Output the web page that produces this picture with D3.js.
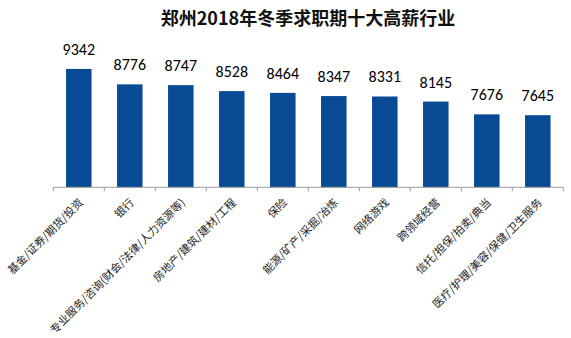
<!DOCTYPE html>
<html>
<head>
<meta charset="utf-8">
<script src="https://cdn.jsdelivr.net/npm/d3@7"></script>
<style>
  html, body { margin: 0; padding: 0; background: #fff; }
  svg { display: block; }
</style>
</head>
<body>
<svg id="chart" width="571" height="338"></svg>
<script>
// 郑州2018年冬季求职期十大高薪行业（平均月薪，元）
const categories = [
  "基金/证券/期货/投资",
  "银行",
  "专业服务/咨询(财会/法律/人力资源等)",
  "房地产/建筑/建材/工程",
  "保险",
  "能源/矿产/采掘/冶炼",
  "网络游戏",
  "跨领域经营",
  "信托/担保/拍卖/典当",
  "医疗/护理/美容/保健/卫生服务"
];
const salaries = [9342, 8776, 8747, 8528, 8464, 8347, 8331, 8145, 7676, 7645];
const yDomain = [5000, 10000];

const svg = d3.select("#chart");
const W = 571, H = 338;
const plot = { left: 53.3, right: 563.3, top: 51, bottom: 187.3 };
const cjk = "'Microsoft YaHei', 'Noto Sans CJK SC', sans-serif";

svg.append("rect").attr("width", W).attr("height", H).attr("fill", "#fff");

svg.append("text")
  .attr("x", 308).attr("y", 24.5)
  .attr("text-anchor", "middle")
  .attr("font-family", cjk)
  .attr("font-weight", "bold")
  .attr("font-size", 18)
  .attr("fill", "#111")
  .text("郑州2018年冬季求职期十大高薪行业");

const x = d3.scaleBand().domain(categories).range([plot.left, plot.right]).padding(0);
const y = d3.scaleLinear().domain(yDomain).range([plot.bottom, plot.top]);
const barW = x.bandwidth() * 0.5;

svg.append("g").selectAll("rect")
  .data(categories)
  .join("rect")
  .attr("x", d => x(d) + (x.bandwidth() - barW) / 2)
  .attr("width", barW)
  .attr("y", (d, i) => y(salaries[i]))
  .attr("height", (d, i) => plot.bottom - y(salaries[i]))
  .attr("fill", "#084a94");

svg.append("g").selectAll("text")
  .data(categories)
  .join("text")
  .attr("x", d => x(d) + x.bandwidth() / 2)
  .attr("y", (d, i) => y(salaries[i]) - 14)
  .attr("text-anchor", "middle")
  .attr("font-family", "Calibri, Carlito, 'Liberation Sans', sans-serif")
  .attr("font-size", 16)
  .attr("fill", "#000")
  .text((d, i) => salaries[i]);

// Category axis: tick marks sit between bands
const axisG = svg.append("g");
axisG.append("line")
  .attr("x1", plot.left).attr("x2", plot.right)
  .attr("y1", plot.bottom).attr("y2", plot.bottom)
  .attr("stroke", "#9a9a9a").attr("stroke-width", 1);
const tickPos = categories.map(d => x(d)).concat([plot.right]);
axisG.selectAll("line.tick")
  .data(tickPos)
  .join("line")
  .attr("class", "tick")
  .attr("x1", d => d).attr("x2", d => d)
  .attr("y1", plot.bottom).attr("y2", plot.bottom + 4)
  .attr("stroke", "#9a9a9a").attr("stroke-width", 1);

axisG.selectAll("text")
  .data(categories)
  .join("text")
  .attr("transform", d => `translate(${x(d) + x.bandwidth() / 2 + 5},${plot.bottom + 16}) rotate(-45)`)
  .attr("text-anchor", "end")
  .attr("font-family", cjk)
  .attr("font-size", 11)
  .attr("fill", "#222")
  .text(d => d);
</script>
</body>
</html>
